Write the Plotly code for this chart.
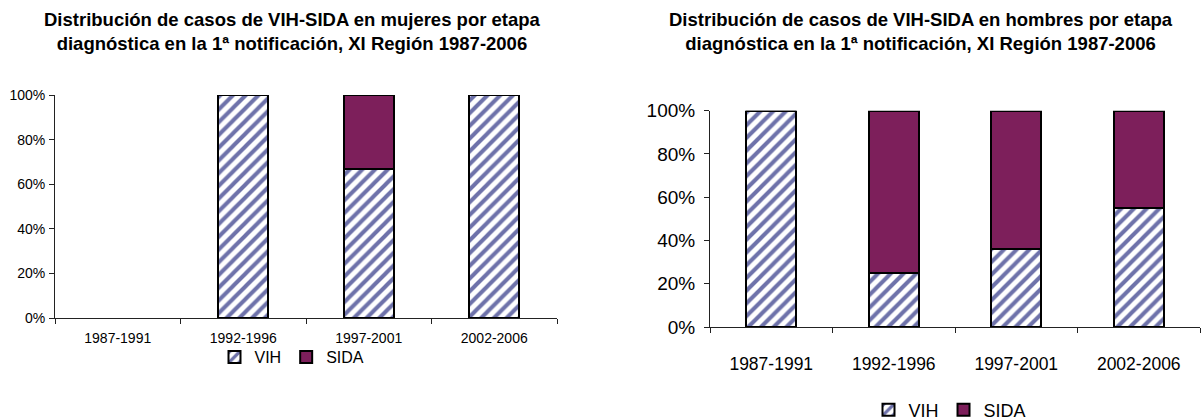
import plotly.graph_objects as go

categories = ["1987-1991", "1992-1996", "1997-2001", "2002-2006"]
mujeres_vih = [None, 100, 66.7, 100]
mujeres_sida = [None, 0, 33.3, 0]
hombres_vih = [100, 25, 36, 55]
hombres_sida = [0, 75, 64, 45]
y_ticks = [0, 20, 40, 60, 80, 100]
y_tick_labels = ["0%", "20%", "40%", "60%", "80%", "100%"]
title_left = "Distribución de casos de VIH-SIDA en mujeres por etapa<br>diagnóstica en la 1ª notificación, XI Región 1987-2006"
title_right = "Distribución de casos de VIH-SIDA en hombres por etapa<br>diagnóstica en la 1ª notificación, XI Región 1987-2006"

FONT = "Liberation Sans Narrow, Arial Narrow, Liberation Sans, Arial, sans-serif"
VIH_FG = "#6E72AA"
SIDA_COLOR = "#7D1F5B"

W, H = 1201, 420

def px_x(p):
    return p / W

def px_y(p):
    return 1 - p / H

fig = go.Figure()

vih_pattern = dict(shape="/", size=9, solidity=0.45, fgcolor=VIH_FG, bgcolor="white", fillmode="replace")

fig.add_trace(go.Bar(x=categories, y=mujeres_vih, name="VIH", xaxis="x", yaxis="y",
                     marker=dict(color="white", pattern=vih_pattern, line=dict(color="black", width=2)),
                     width=0.4, legend="legend"))
fig.add_trace(go.Bar(x=categories, y=mujeres_sida, name="SIDA", xaxis="x", yaxis="y",
                     marker=dict(color=SIDA_COLOR, line=dict(color="black", width=2)),
                     width=0.4, legend="legend"))
fig.add_trace(go.Bar(x=categories, y=hombres_vih, name="VIH", xaxis="x2", yaxis="y2",
                     marker=dict(color="white", pattern=vih_pattern, line=dict(color="black", width=2)),
                     width=0.41, legend="legend2"))
fig.add_trace(go.Bar(x=categories, y=hombres_sida, name="SIDA", xaxis="x2", yaxis="y2",
                     marker=dict(color=SIDA_COLOR, line=dict(color="black", width=2)),
                     width=0.41, legend="legend2"))

axis_common = dict(showgrid=False, zeroline=False, showline=True, linecolor="#222222", linewidth=1,
                   ticks="outside", tickcolor="#222222", ticklen=5, tickwidth=1, automargin=False)

fig.update_layout(
    width=W, height=H,
    margin=dict(l=0, r=0, t=0, b=0, autoexpand=False),
    paper_bgcolor="white", plot_bgcolor="white",
    barmode="stack",
    font=dict(family=FONT, color="black"),
    showlegend=True,
    xaxis=dict(domain=[px_x(55), px_x(557)], anchor="y", tickson="boundaries",
               tickfont=dict(size=14), ticklabelstandoff=7, **axis_common),
    yaxis=dict(domain=[px_y(318), px_y(95)], anchor="x", range=[0, 100],
               tickvals=y_ticks, ticktext=y_tick_labels, tickfont=dict(size=14), ticklabelstandoff=1,
               **axis_common),
    xaxis2=dict(domain=[px_x(710), px_x(1200)], anchor="y2", tickson="boundaries",
                tickfont=dict(size=17.5), ticklabelstandoff=21, **axis_common),
    yaxis2=dict(domain=[px_y(327), px_y(110.7)], anchor="x2", range=[0, 100],
                tickvals=y_ticks, ticktext=y_tick_labels, tickfont=dict(size=19), ticklabelstandoff=5,
                **axis_common),
    legend=dict(orientation="h", x=px_x(292), xanchor="center", y=px_y(357), yanchor="middle",
                font=dict(size=16), itemwidth=30, bgcolor="rgba(0,0,0,0)", traceorder="normal"),
    legend2=dict(orientation="h", x=px_x(950), xanchor="center", y=px_y(410), yanchor="middle",
                 font=dict(size=18), itemwidth=30, bgcolor="rgba(0,0,0,0)", traceorder="normal"),
    annotations=[
        dict(text="<b>" + title_left + "</b>", x=px_x(292), y=px_y(31.5), xref="paper", yref="paper",
             xanchor="center", yanchor="middle", showarrow=False, font=dict(size=18.5, family=FONT)),
        dict(text="<b>" + title_right + "</b>", x=px_x(921), y=px_y(31.5), xref="paper", yref="paper",
             xanchor="center", yanchor="middle", showarrow=False, font=dict(size=18.5, family=FONT)),
    ],
)

fig.write_html("out.html", config={"displayModeBar": False},
               post_script="document.body.style.margin='0';document.body.style.overflow='hidden';")
